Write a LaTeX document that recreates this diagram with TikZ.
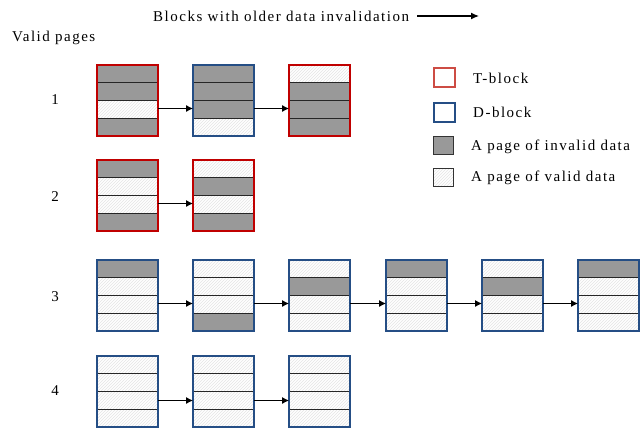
\documentclass[tikz,border=0pt]{standalone}
\usepackage{fontspec}
\setmainfont[LetterSpace=10]{Liberation Serif}
\usetikzlibrary{arrows.meta,patterns}

\definecolor{tred}{HTML}{C00000}
\definecolor{tredlight}{HTML}{CD4C44}
\definecolor{dblue}{HTML}{254E85}
\definecolor{invgray}{HTML}{9A9A9A}

\tikzset{
  lbl/.style={font=\fontsize{15}{17}\selectfont, inner sep=0pt},
  ipage/.style={fill=invgray, postaction={pattern=north east lines, pattern color=black!40}},
  vpage/.style={fill=white, postaction={pattern=north east lines, pattern color=black!10}},
  divider/.style={draw=black!85, line width=0.9pt},
  blockbox/.style={draw=#1, line width=2.2pt, minimum width=61pt, minimum height=71pt,
                   anchor=north west, inner sep=0pt, outer sep=0pt},
  flow/.style={-{Latex[length=7pt,width=7pt]}, line width=0.9pt},
  legbox/.style={draw=#1, line width=1.6pt, minimum width=21pt, minimum height=19pt,
                 anchor=north west, inner sep=0pt},
}

% #1 node name, #2 left, #3 top, #4 frame colour, #5 page kinds (ipage/vpage) from top
\newcommand\flashblock[5]{%
  \foreach \p [count=\k from 0] in {#5} {
    \path[\p] (#2,#3+\k*17.75) rectangle ++(61,17.75);
  }
  \foreach \k in {1,2,3} {
    \draw[divider] (#2,#3+\k*17.75) -- ++(61,0);
  }
  \node[blockbox=#4] (#1) at (#2,#3) {};
}

\begin{document}
\begin{tikzpicture}[x=1pt,y=-1pt]
\useasboundingbox (0,0) rectangle (641,432);

% headings
\node[lbl, anchor=west] (title) at (153,16) {Blocks with older data invalidation};
\coordinate (titlestart) at (417,16);
\coordinate (titleend) at (479,16);
\draw[-{Latex[length=8pt,width=7pt]}, line width=1.2pt] (titlestart) -- (titleend);
\node[lbl, anchor=west] (valid) at (12,38) {Valid pages};

% row labels
\node[lbl] (n1) at (55,100) {1};
\node[lbl] (n2) at (55,197) {2};
\node[lbl] (n3) at (55,297) {3};
\node[lbl] (n4) at (55,391) {4};

% row 1
\flashblock{a1}{97}{65}{tred}{ipage,ipage,vpage,ipage}
\flashblock{a2}{193}{65}{dblue}{ipage,ipage,ipage,vpage}
\flashblock{a3}{289}{65}{tred}{vpage,ipage,ipage,ipage}
% row 2
\flashblock{b1}{97}{160}{tred}{ipage,vpage,vpage,ipage}
\flashblock{b2}{193}{160}{tred}{vpage,ipage,vpage,ipage}
% row 3
\flashblock{c1}{97}{260}{dblue}{ipage,vpage,vpage,vpage}
\flashblock{c2}{193}{260}{dblue}{vpage,vpage,vpage,ipage}
\flashblock{c3}{289}{260}{dblue}{vpage,ipage,vpage,vpage}
\flashblock{c4}{386}{260}{dblue}{ipage,vpage,vpage,vpage}
\flashblock{c5}{482}{260}{dblue}{vpage,ipage,vpage,vpage}
\flashblock{c6}{578}{260}{dblue}{ipage,vpage,vpage,vpage}
% row 4
\flashblock{d1}{97}{356}{dblue}{vpage,vpage,vpage,vpage}
\flashblock{d2}{193}{356}{dblue}{vpage,vpage,vpage,vpage}
\flashblock{d3}{289}{356}{dblue}{vpage,vpage,vpage,vpage}

% invalidation flow
\draw[flow] ([yshift=-8pt]a1.east) -- ([yshift=-8pt]a2.west);
\draw[flow] ([yshift=-8pt]a2.east) -- ([yshift=-8pt]a3.west);
\draw[flow] ([yshift=-8pt]b1.east) -- ([yshift=-8pt]b2.west);
\draw[flow] ([yshift=-8pt]c1.east) -- ([yshift=-8pt]c2.west);
\draw[flow] ([yshift=-8pt]c2.east) -- ([yshift=-8pt]c3.west);
\draw[flow] ([yshift=-8pt]c3.east) -- ([yshift=-8pt]c4.west);
\draw[flow] ([yshift=-8pt]c4.east) -- ([yshift=-8pt]c5.west);
\draw[flow] ([yshift=-8pt]c5.east) -- ([yshift=-8pt]c6.west);
\draw[flow] ([yshift=-9pt]d1.east) -- ([yshift=-9pt]d2.west);
\draw[flow] ([yshift=-9pt]d2.east) -- ([yshift=-9pt]d3.west);

% legend
\node[legbox=tredlight] (kt) at (433,67) {};
\node[legbox=dblue] (kd) at (433,102) {};
\path[ipage] (433,136) rectangle ++(20,18);
\node[legbox=black!80, line width=0.8pt, minimum width=20pt, minimum height=18pt] (ki) at (433,136) {};
\path[vpage] (433,168) rectangle ++(20,18);
\node[legbox=black!80, line width=0.8pt, minimum width=20pt, minimum height=18pt] (kv) at (433,168) {};
\node[lbl, anchor=west] (kttext) at (473,78) {T-block};
\node[lbl, anchor=west] (kdtext) at (473,112) {D-block};
\node[lbl, anchor=west] (kitext) at (471,147) {A page of invalid data};
\node[lbl, anchor=west] (kvtext) at (471,178) {A page of valid data};
\end{tikzpicture}
\end{document}
